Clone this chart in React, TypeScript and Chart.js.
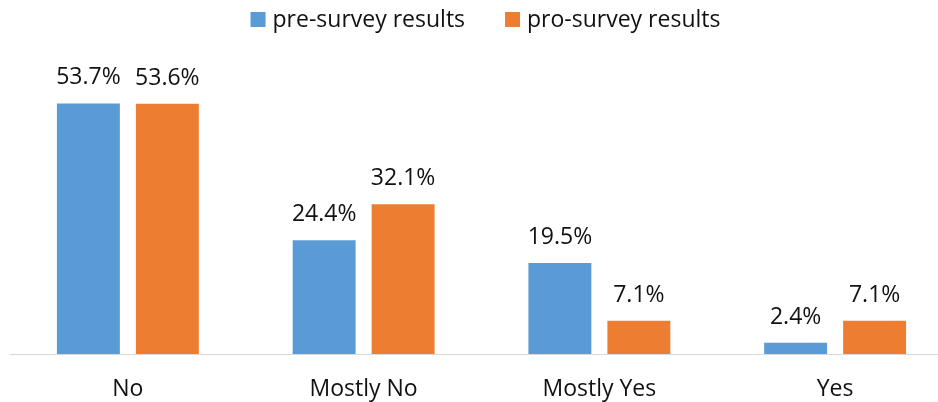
import React, { useEffect, useRef } from "react";
import { Chart, registerables } from "chart.js";

Chart.register(...registerables);

const categories = ["No", "Mostly No", "Mostly Yes", "Yes"];
const preSurvey = [53.7, 24.4, 19.5, 2.4];
const proSurvey = [53.6, 32.1, 7.1, 7.1];
const seriesNames = ["pre-survey results", "pro-survey results"];
const seriesColors = ["#5b9bd5", "#ed7d31"];

const FONT = "'Open Sans', Lato, sans-serif";
const TEXT = "#111";

const dataLabels = {
  id: "dataLabels",
  afterDatasetsDraw(chart: any) {
    const ctx = chart.ctx;
    ctx.save();
    ctx.font = `23px ${FONT}`;
    ctx.fillStyle = TEXT;
    ctx.textAlign = "center";
    ctx.textBaseline = "alphabetic";
    chart.data.datasets.forEach((ds: any, i: number) => {
      const meta = chart.getDatasetMeta(i);
      meta.data.forEach((bar: any, j: number) => {
        ctx.fillText(ds.data[j].toFixed(1) + "%", bar.x, bar.y - 19);
      });
    });
    ctx.restore();
  },
};

const customLegend = {
  id: "customLegend",
  afterDraw(chart: any) {
    const ctx = chart.ctx;
    ctx.save();
    ctx.font = `23px ${FONT}`;
    const box = 15;
    const gapText = 7;
    const gapItem = 40;
    const widths = seriesNames.map((n) => ctx.measureText(n).width);
    const total = widths.reduce((a, w) => a + box + gapText + w, 0) + gapItem * (seriesNames.length - 1);
    let x = 485.5 - total / 2;
    const cy = 19.5;
    seriesNames.forEach((name, i) => {
      ctx.fillStyle = seriesColors[i];
      ctx.fillRect(x, cy - box / 2, box, box);
      x += box + gapText;
      ctx.fillStyle = TEXT;
      ctx.textAlign = "left";
      ctx.textBaseline = "middle";
      ctx.fillText(name, x, cy + 1);
      x += widths[i] + gapItem;
    });
    ctx.restore();
  },
};

export default function App() {
  const ref = useRef<HTMLCanvasElement>(null);
  useEffect(() => {
    const chart = new Chart(ref.current!, {
      type: "bar",
      data: {
        labels: categories,
        datasets: [
          { label: seriesNames[0], data: preSurvey, backgroundColor: seriesColors[0] },
          { label: seriesNames[1], data: proSurvey, backgroundColor: seriesColors[1] },
        ],
      },
      options: {
        animation: false,
        responsive: false,
        maintainAspectRatio: false,
        datasets: { bar: { categoryPercentage: 0.67, barPercentage: 0.797 } },
        layout: { padding: { left: 10, right: 0, top: 74, bottom: 0 } },
        plugins: {
          legend: { display: false },
          tooltip: { enabled: false },
        },
        scales: {
          x: {
            grid: { display: false, drawTicks: false },
            border: { display: true, color: "#d9d9d9", width: 1 },
            ticks: { color: TEXT, font: { family: FONT, size: 23 }, padding: 22 },
            afterFit(scale: any) {
              scale.height = 48;
            },
          },
          y: { display: false, min: 0, max: 60 },
        },
      },
      plugins: [dataLabels, customLegend],
    });
    return () => chart.destroy();
  }, []);
  return (
    <div style={{ position: "fixed", left: 0, top: 0, width: 938, height: 402, overflow: "hidden", background: "#fff" }}>
      <canvas ref={ref} width={953} height={402} style={{ display: "block" }} />
    </div>
  );
}
